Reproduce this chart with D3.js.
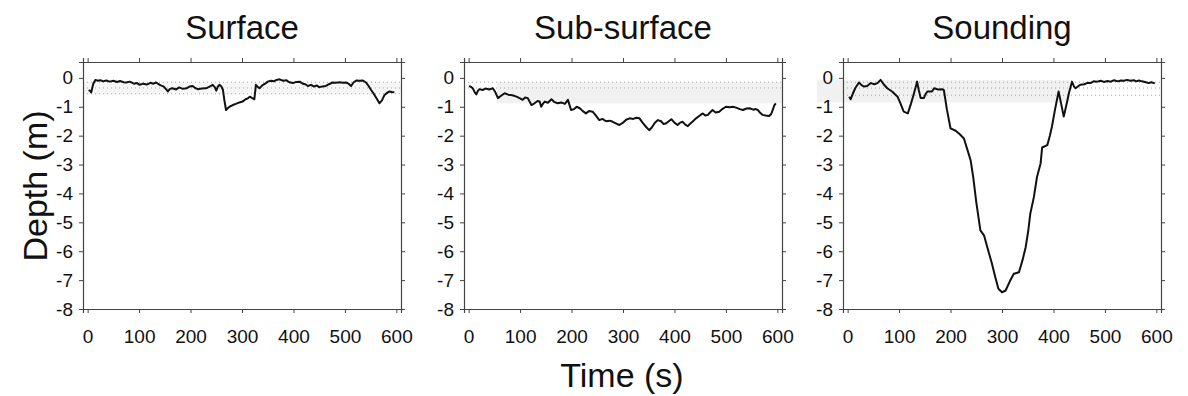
<!DOCTYPE html>
<html>
<head>
<meta charset="utf-8">
<script src="https://cdn.jsdelivr.net/npm/d3@7"></script>
<style>
    body { margin: 0; background: #fff; }
    svg { font-family: "Liberation Sans", Arial, sans-serif; }
</style>
</head>
<body>
<svg id="chart" width="1188" height="396"></svg>
<script>
// panel titles
const panelTitles = ['Surface', 'Sub-surface', 'Sounding'];
const xTicks = [0, 100, 200, 300, 400, 500, 600];
const yTicks = [0, -1, -2, -3, -4, -5, -6, -7, -8];

// depth traces, [time (s), depth (m)]
const surfaceTrace = [
    [2, -0.42], [5, -0.45], [7, -0.5], [11, -0.2], [15, -0.07], [20, -0.1], [25, -0.08], [30, -0.12],
    [36, -0.09], [43, -0.13], [50, -0.1], [57, -0.14], [63, -0.11], [70, -0.15], [75, -0.16], [82, -0.13],
    [90, -0.2], [96, -0.18], [101, -0.24], [108, -0.2], [115, -0.23], [122, -0.17], [128, -0.2], [133, -0.16],
    [140, -0.24], [148, -0.3], [156, -0.47], [160, -0.38], [165, -0.36], [172, -0.4], [178, -0.33], [185, -0.38],
    [192, -0.36], [198, -0.3], [204, -0.28], [209, -0.35], [214, -0.39], [222, -0.37], [230, -0.36], [237, -0.3],
    [243, -0.24], [247, -0.32], [250, -0.44], [253, -0.3], [256, -0.24], [260, -0.3], [263, -0.42], [266, -0.8],
    [269, -1.11], [274, -1.02], [278, -0.98], [282, -0.94], [288, -0.9], [295, -0.85], [301, -0.82], [307, -0.74],
    [312, -0.7], [315, -0.65], [320, -0.7], [324, -0.74], [327, -0.24], [331, -0.32], [334, -0.36], [340, -0.25],
    [345, -0.2], [350, -0.13], [356, -0.1], [362, -0.12], [367, -0.07], [373, -0.05], [380, -0.1], [386, -0.08],
    [392, -0.15], [399, -0.18], [405, -0.14], [412, -0.13], [418, -0.2], [423, -0.22], [428, -0.28], [434, -0.24],
    [440, -0.3], [445, -0.26], [450, -0.32], [456, -0.3], [463, -0.28], [469, -0.22], [476, -0.16], [482, -0.17],
    [490, -0.15], [496, -0.17], [502, -0.16], [507, -0.2], [512, -0.28], [517, -0.15], [522, -0.09], [528, -0.1],
    [535, -0.09], [541, -0.16], [546, -0.28], [551, -0.42], [556, -0.55], [562, -0.72], [567, -0.88], [572, -0.78],
    [577, -0.59], [582, -0.52], [586, -0.47], [591, -0.49], [596, -0.5]
];
const subsurfaceTrace = [
    [1, -0.28], [5, -0.32], [8, -0.36], [12, -0.5], [15, -0.57], [18, -0.45], [21, -0.39], [27, -0.42],
    [33, -0.37], [40, -0.4], [47, -0.36], [52, -0.5], [57, -0.7], [63, -0.62], [70, -0.53], [77, -0.58],
    [85, -0.6], [93, -0.65], [99, -0.7], [105, -0.76], [110, -0.68], [115, -0.7], [122, -0.94], [128, -0.88],
    [134, -0.8], [138, -0.82], [141, -1.0], [145, -0.88], [148, -0.82], [154, -0.86], [161, -0.74], [167, -0.84],
    [173, -0.88], [180, -0.85], [187, -0.9], [193, -0.76], [199, -1.11], [205, -1.08], [210, -1.0], [216, -1.05],
    [222, -1.15], [228, -1.23], [234, -1.15], [241, -1.17], [247, -1.3], [254, -1.46], [260, -1.42], [267, -1.5],
    [274, -1.48], [280, -1.52], [287, -1.58], [293, -1.63], [300, -1.55], [306, -1.45], [313, -1.4], [320, -1.42],
    [326, -1.38], [332, -1.4], [338, -1.55], [345, -1.7], [351, -1.81], [356, -1.72], [362, -1.55], [368, -1.46],
    [374, -1.5], [379, -1.6], [384, -1.57], [389, -1.5], [394, -1.43], [400, -1.55], [406, -1.63], [411, -1.55],
    [416, -1.52], [421, -1.62], [426, -1.67], [431, -1.58], [436, -1.5], [442, -1.4], [448, -1.32], [455, -1.23],
    [460, -1.3], [465, -1.28], [470, -1.18], [474, -1.11], [480, -1.2], [487, -1.17], [493, -1.08], [500, -1.0],
    [507, -1.02], [513, -1.0], [520, -1.03], [527, -1.08], [533, -1.11], [540, -1.06], [546, -1.05], [553, -1.1],
    [558, -1.08], [562, -1.11], [566, -1.2], [571, -1.28], [577, -1.3], [584, -1.32], [588, -1.25], [591, -1.11],
    [594, -0.95], [597, -0.88]
];
const soundingTrace = [
    [3, -0.65], [6, -0.74], [10, -0.55], [15, -0.35], [22, -0.16], [27, -0.25], [32, -0.3], [38, -0.28],
    [45, -0.18], [52, -0.22], [58, -0.18], [64, -0.07], [70, -0.22], [77, -0.36], [87, -0.48], [97, -0.65],
    [103, -0.9], [109, -1.17], [117, -1.23], [123, -0.9], [129, -0.53], [135, -0.13], [138, -0.4], [142, -0.7],
    [148, -0.7], [152, -0.55], [155, -0.47], [164, -0.47], [168, -0.36], [176, -0.4], [184, -0.39], [187, -0.42],
    [193, -1.1], [200, -1.75], [210, -1.83], [218, -1.95], [226, -2.1], [233, -2.5], [239, -2.85], [244, -3.43],
    [250, -4.3], [258, -5.28], [265, -5.45], [272, -5.9], [280, -6.4], [287, -6.9], [293, -7.3], [300, -7.42],
    [307, -7.36], [315, -7.05], [323, -6.78], [333, -6.73], [340, -6.3], [346, -5.86], [351, -5.3], [355, -4.7],
    [362, -4.12], [368, -3.43], [375, -2.96], [378, -2.41], [388, -2.33], [393, -2.0], [397, -1.69], [403, -1.1],
    [410, -0.47], [415, -0.9], [420, -1.34], [425, -0.95], [430, -0.53], [436, -0.13], [440, -0.3], [443, -0.36],
    [452, -0.24], [460, -0.22], [466, -0.17], [472, -0.18], [478, -0.12], [485, -0.13], [492, -0.1], [498, -0.14],
    [505, -0.11], [511, -0.13], [518, -0.08], [525, -0.12], [531, -0.09], [537, -0.1], [543, -0.07], [550, -0.1],
    [556, -0.08], [561, -0.12], [566, -0.09], [572, -0.12], [578, -0.14], [585, -0.18], [590, -0.15], [597, -0.19]
];
const traces = [surfaceTrace, subsurfaceTrace, soundingTrace];

// near-surface layer shading: [t0, t1, top depth, bottom depth], dotted levels
const bandFills = [[-9, 609, -0.15, -0.55], [55, 609, -0.15, -0.88], [-60, 432, -0.08, -0.85]];
const bandColors = ['#f6f6f6', '#f1f1f1', '#f1f1f1'];
const bandLines = [[-0.15, -0.35, -0.55], [-0.15, -0.35], [-0.15, -0.35, -0.6]];

const panelLeft = [83, 464, 843];
const panelWidth = 318;
const plotTop = 62;
const plotBottom = 309;

const svg = d3.select('#chart');

const y = d3.scaleLinear().domain([-8, 0.55]).range([plotBottom, plotTop]);

panelTitles.forEach((title, i) => {
    const x = d3.scaleLinear().domain([-9, 609]).range([panelLeft[i], panelLeft[i] + panelWidth]);
    const g = svg.append('g');

    g.append('rect')
        .attr('x', x(bandFills[i][0]))
        .attr('y', y(bandFills[i][2]))
        .attr('width', x(bandFills[i][1]) - x(bandFills[i][0]))
        .attr('height', y(bandFills[i][3]) - y(bandFills[i][2]))
        .attr('fill', bandColors[i]);

    bandLines[i].forEach((d) => {
        g.append('line')
            .attr('x1', x(-9))
            .attr('x2', x(609))
            .attr('y1', y(d))
            .attr('y2', y(d))
            .attr('stroke', '#a5a5a5')
            .attr('stroke-width', 1)
            .attr('stroke-dasharray', '1,3');
    });

    // axes on all four sides, ticks outward
    const axL = g.append('g').attr('transform', `translate(${panelLeft[i]},0)`)
        .call(d3.axisLeft(y).tickValues(yTicks).tickSize(4).tickPadding(6).tickFormat((d) => (d === 0 ? '0' : `-${-d}`)));
    const axR = g.append('g').attr('transform', `translate(${panelLeft[i] + panelWidth},0)`)
        .call(d3.axisRight(y).tickValues(yTicks).tickSize(4).tickFormat(''));
    const axB = g.append('g').attr('transform', `translate(0,${plotBottom})`)
        .call(d3.axisBottom(x).tickValues(xTicks).tickSize(4).tickPadding(17));
    const axT = g.append('g').attr('transform', `translate(0,${plotTop})`)
        .call(d3.axisTop(x).tickValues(xTicks).tickSize(4).tickFormat(''));

    [axL, axR, axB, axT].forEach((ax) => {
        ax.select('.domain').attr('stroke', '#444').attr('stroke-width', 1.2);
        ax.selectAll('.tick line').attr('stroke', '#444');
        ax.selectAll('text')
            .attr('font-size', 19)
            .attr('fill', '#111')
            .attr('font-family', '"Liberation Sans", Arial, sans-serif');
    });

    g.append('path')
        .datum(traces[i])
        .attr('fill', 'none')
        .attr('stroke', '#111')
        .attr('stroke-width', 2)
        .attr('stroke-linejoin', 'round')
        .attr('d', d3.line().x((d) => x(d[0])).y((d) => y(d[1])));

    g.append('text')
        .attr('x', panelLeft[i] + panelWidth / 2)
        .attr('y', 39)
        .attr('text-anchor', 'middle')
        .attr('font-size', 33)
        .attr('fill', '#111')
        .text(title);
});

svg.append('text')
    .attr('transform', 'translate(47,186) rotate(-90)')
    .attr('text-anchor', 'middle')
    .attr('font-size', 34)
    .attr('fill', '#111')
    .text('Depth (m)');

svg.append('text')
    .attr('x', 622)
    .attr('y', 387)
    .attr('text-anchor', 'middle')
    .attr('font-size', 34)
    .attr('fill', '#111')
    .text('Time (s)');
</script>
</body>
</html>
